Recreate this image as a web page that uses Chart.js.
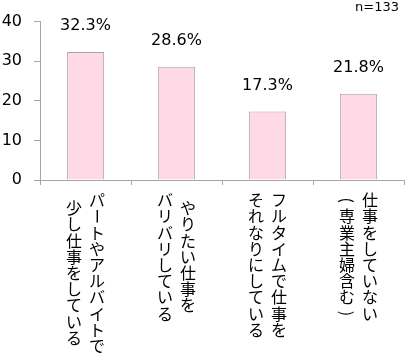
<!DOCTYPE html>
<html><head><meta charset="utf-8">
<script src="https://cdn.jsdelivr.net/npm/chart.js@4/dist/chart.umd.min.js"></script>
<style>html,body{margin:0;padding:0;background:#fff}#wrap{width:405px;height:357px}</style>
</head><body><div id="wrap"><canvas id="c" width="405" height="357"></canvas></div>
<script>
const categories = [
  ["パートやアルバイトで","少し仕事をしている"],
  ["やりたい仕事を","バリバリしている"],
  ["フルタイムで仕事を","それなりにしている"],
  ["仕事をしていない","(専業主婦含む)"]
];
const values = [32.3, 28.6, 17.3, 21.8];
const valueLabels = ["32.3%","28.6%","17.3%","21.8%"];
const yTicks = [0, 10, 20, 30, 40];
const sampleNote = "n=133";

const FONT = '"Noto Sans CJK JP", "Noto Sans", sans-serif';
const NUMFONT = '"DejaVu Sans", sans-serif';
const AXIS = '#a6a6a6';
const ROT = new Set(['ー','(',')','（','）','－']);

const overlay = {
  id: 'overlay',
  afterDraw(chart) {
    const ctx = chart.ctx;
    const xs = chart.scales.x;
    const meta = chart.getDatasetMeta(0);
    ctx.save();
    ctx.fillStyle = '#000';
    // value labels
    ctx.font = '16px ' + NUMFONT;
    ctx.textAlign = 'center';
    ctx.textBaseline = 'middle';
    meta.data.forEach((bar, i) => {
      ctx.fillText(valueLabels[i], bar.x, bar.y - 26);
    });
    // n note
    ctx.font = '13px ' + NUMFONT;
    ctx.textAlign = 'right';
    ctx.fillText(sampleNote, 399, 8);
    // vertical category labels
    ctx.font = '16px ' + FONT;
    ctx.textAlign = 'center';
    ctx.textBaseline = 'middle';
    const step = 16.2, colGap = 23;
    const top = chart.chartArea.bottom + 12;
    categories.forEach((lines, i) => {
      const cx = xs.getPixelForValue(i);
      const maxLen = Math.max(...lines.map(l => [...l].length));
      lines.forEach((line, j) => {
        const chars = [...line];
        const x = cx + (lines.length - 1) / 2 * colGap - j * colGap;
        const y0 = top + (maxLen - chars.length) * step / 2;
        chars.forEach((ch, k) => {
          const y = y0 + k * step + step / 2;
          if (ROT.has(ch)) {
            ctx.save();
            ctx.translate(x, y);
            ctx.rotate(Math.PI / 2);
            ctx.fillText(ch, 0, 0);
            ctx.restore();
          } else {
            ctx.fillText(ch, x, y);
          }
        });
      });
    });
    ctx.restore();
  }
};

new Chart(document.getElementById('c'), {
  type: 'bar',
  data: {
    labels: categories.map(l => l.join('')),
    datasets: [{
      data: values,
      backgroundColor: '#ffd9e5',
      borderColor: AXIS,
      borderWidth: 1,
      barPercentage: 0.82,
      categoryPercentage: 0.5
    }]
  },
  options: {
    responsive: false,
    animation: false,
    devicePixelRatio: 1,
    layout: { padding: { top: 14, right: 1, left: 0, bottom: 0 } },
    plugins: { legend: { display: false }, tooltip: { enabled: false } },
    scales: {
      x: {
        grid: { display: true, drawOnChartArea: false, drawTicks: true, tickLength: 5, color: AXIS, offset: true },
        border: { display: true, color: AXIS },
        ticks: { display: false },
        afterFit(s) { s.height = 177; }
      },
      y: {
        min: 0, max: 40,
        afterBuildTicks(s) { s.ticks = yTicks.map(v => ({ value: v })); },
        grid: { display: true, drawOnChartArea: false, drawTicks: true, tickLength: 6, color: AXIS },
        border: { display: true, color: AXIS },
        ticks: { color: '#000', font: { size: 16, family: NUMFONT }, padding: 12 },
        afterFit(s) { s.width = 40; }
      }
    }
  },
  plugins: [overlay]
});
</script></body></html>
